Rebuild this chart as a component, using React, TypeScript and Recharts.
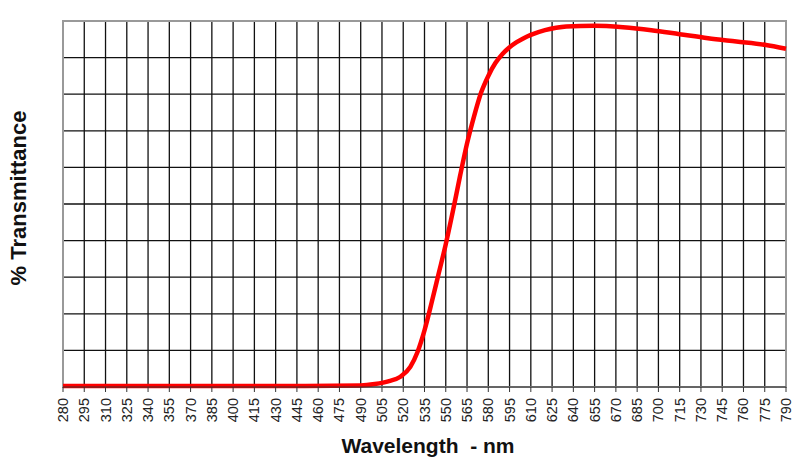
import { CartesianGrid, Line, LineChart, ReferenceArea, XAxis, YAxis } from "recharts";

const wavelengths = [
  280, 300, 350, 400, 450, 490, 500, 510, 518, 525, 530, 535, 540, 545, 550,
  555, 560, 565, 570, 575, 580, 585, 590, 595, 600, 605, 610, 620, 635, 655,
  675, 695, 715, 735, 755, 775, 790,
];
const transmittance = [
  0.3, 0.3, 0.3, 0.3, 0.3, 0.4, 0.8, 1.6, 2.8, 5.5, 9.5, 15.5, 23, 31, 39, 48,
  57.5, 66.5, 74, 80.5, 85, 88.5, 91, 92.8, 94.2, 95.3, 96.2, 97.5, 98.5, 98.7,
  98.3, 97.5, 96.4, 95.3, 94.4, 93.5, 92.4,
];
const xTicks = Array.from({ length: 35 }, (_, i) => 280 + i * 15);
const yTicks = [0, 10, 20, 30, 40, 50, 60, 70, 80, 90, 100];

const data = wavelengths.map((w, i) => ({ w, t: transmittance[i] }));

const font = "'Liberation Sans', Arial, sans-serif";

function Tick(props: any) {
  const { x, payload } = props;
  const y = 398;
  return (
    <text
      x={x}
      y={y}
      transform={`rotate(-90, ${x}, ${y})`}
      textAnchor="end"
      dominantBaseline="central"
      fontFamily={font}
      fontSize={14.5}
      fill="#222"
    >
      {payload.value}
    </text>
  );
}

export default function App() {
  return (
    <div style={{ position: "absolute", left: 0, top: 0, width: 809, height: 463 }}>
      <LineChart
        width={809}
        height={463}
        data={data}
        margin={{ top: 21, right: 23, left: 63, bottom: 0 }}
      >
        <CartesianGrid stroke="#111" strokeWidth={1.3} />
        <XAxis
          dataKey="w"
          type="number"
          domain={[280, 790]}
          ticks={xTicks}
          interval={0}
          height={76}
          tickSize={5}
          tick={<Tick />}
          stroke="#333"
        />
        <YAxis hide domain={[0, 100]} ticks={yTicks} />
        <ReferenceArea
          x1={280}
          x2={790}
          y1={0}
          y2={100}
          fill="none"
          stroke="#999"
          strokeWidth={2}
          fillOpacity={0}
        />
        <Line
          dataKey="t"
          type="monotone"
          stroke="#ff0000"
          strokeWidth={4.5}
          dot={false}
          isAnimationActive={false}
        />
      </LineChart>
      <svg
        width={809}
        height={463}
        style={{ position: "absolute", left: 0, top: 0, pointerEvents: "none" }}
      >
        <text
          x={18}
          y={198}
          transform="rotate(-90, 18, 198)"
          textAnchor="middle"
          dominantBaseline="central"
          fontFamily={font}
          fontWeight="bold"
          fontSize={22}
          fill="#111"
        >
          % Transmittance
        </text>
        <text
          x={428}
          y={453}
          textAnchor="middle"
          fontFamily={font}
          fontWeight="bold"
          fontSize={21}
          fill="#111"
          style={{ whiteSpace: "pre" }}
        >
          {"Wavelength  - nm"}
        </text>
      </svg>
    </div>
  );
}
